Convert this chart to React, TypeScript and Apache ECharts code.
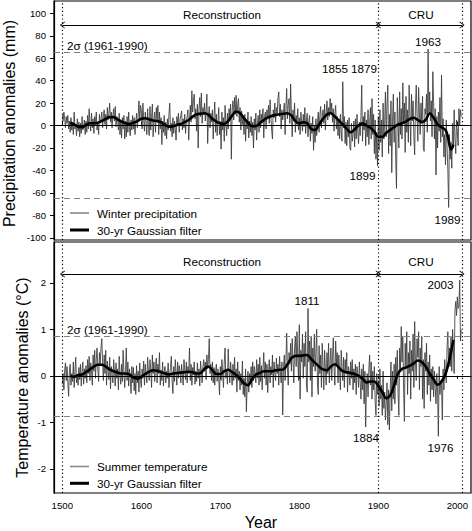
import React, { useEffect, useRef } from "react";
import * as echarts from "echarts";

const START_YEAR = 1500;

// Winter precipitation anomalies (mm), one value per year from 1500 to 2005
const precipitation: number[] = [
  10, 4, 12, 6, -2, 8, 2, 9, -3, 4,
  -6, 7, -4, 3, -8, 12, -3, 1, -9, 6,
  -5, 3, -10, 2, -7, 8, -4, -1, 5, -8,
  4, -6, 9, -3, 15, 2, -5, 11, -2, 6,
  -7, 8, 1, 12, -4, 3, -8, 10, 2, 6,
  12, -2, 8, 14, 1, 10, -3, 16, 5, 11,
  20, 3, 12, -2, 9, 15, 4, 17, -1, 8,
  6, -4, 11, -8, 3, -11, 7, -3, 9, -12,
  4, -10, 8, -6, 12, -2, -9, 5, -4, 9,
  -3, 7, -8, 3, 11, -2, 8, 22, 4, 18,
  14, -3, 20, 6, -5, 12, 3, -8, 15, 1,
  -9, 17, -4, 8, 19, -10, 6, 12, -6, 16,
  5, 18, -8, 12, -3, 7, -17, 4, -6, 9,
  -9, 3, -12, 6, -4, 10, 20, -5, 2, -10,
  7, -7, 4, -3, -13, 8, 1, 11, -6, 5,
  9, 13, -4, 6, -2, 10, -7, 4, 8, 14,
  -13, 5, 18, 3, 31, 12, 22, 28, 6, 15,
  -5, 19, -20, 14, 25, 8, 29, 2, 16, 10,
  20, 4, 13, 28, -16, 9, 17, -2, 11, 3,
  14, -12, 8, 21, -6, 10, -9, 4, 16, -8,
  2, -21, 12, -4, 7, -14, 18, 3, -9, 11,
  -3, 15, 6, 19, -30, 14, 22, 5, 25, 10,
  27, 8, 18, 24, 3, 16, -4, 13, 1, 9,
  -8, 10, -14, 5, -3, 12, -11, 4, -6, 8,
  -9, 3, -20, 6, -4, 11, -13, 2, 9, -6,
  14, -2, 10, 4, 15, -11, 8, 12, -3, 14,
  6, 18, 2, 23, 9, -4, -12, 14, 7, 20,
  3, 16, 11, 25, 30, 8, 19, -3, 14, 5,
  12, 20, -8, 15, 33, 6, 18, 24, 2, 37,
  10, -10, 14, 4, 20, -6, 9, 1, 15, -4,
  7, -8, 12, 3, -5, 10, -1, 16, -7, 5,
  11, -10, 4, 9, -14, 2, -7, 8, -22, 0,
  -15, 6, -9, 3, 12, -6, 9, 17, -2, 8,
  14, 2, 19, -4, 11, 22, 5, 16, 8, 24,
  12, 20, 3, 15, -5, 10, 18, -3, 8, -9,
  6, -12, 10, -6, -14, 39, -2, 8, -16, 3,
  -18, 5, -10, 7, -20, -22, 2, -14, -8, 4,
  -19, 6, -12, 10, -6, -16, 3, -9, 8, 36,
  -14, 8, -4, 12, -18, 5, -10, 14, -17, 2,
  16, -12, 24, -8, 10, -25, 5, -30, -6, -36,
  8, -22, 14, -15, 5, -28, 20, -12, 2, 30,
  -10, 18, 36, -25, 10, -18, 22, -42, 4, 28,
  -15, 12, -30, -56, 25, 5, -20, 30, -8, 15,
  -12, 38, 2, 20, -24, 26, -6, 14, -15, 36,
  10, -18, 28, 4, 22, -10, -26, 18, 36, 8,
  -14, 34, 12, -8, 20, 2, 26, -20, -23, 15,
  10, 28, -6, 68, 12, 30, 4, 22, -10, 48,
  20, -12, 15, -44, 8, -20, 12, -5, 25, -15,
  45, -10, 6, -28, -8, -35, 5, -18, -40, -73,
  -8, -30, -15, -38, 2, -20, 14, -12, -25, 5,
  -5, -18, 15, 0, 14, 8,
];

// Summer temperature anomalies (°C), one value per year from 1500 to 2005
const temperature: number[] = [
  -0.18, 0.05, -0.3, 0.12, 0.28, -0.1, 0.2, -0.15, -0.44, 0.1,
  0.25, -0.2, 0.05, -0.12, 0.3, -0.25, 0.1, 0.4, -0.15, 0.02,
  -0.2, 0.18, -0.08, 0.25, -0.22, 0.08, 0.3, -0.18, 0.15, -0.05,
  0.22, -0.15, 0.35, 0.05, 0.42, -0.1, 0.28, 0.12, -0.2, 0.45,
  0.1, 0.55, -0.05, 0.35, 0.6, 0.15, -0.12, 0.5, 0.25, 0.62,
  0.8, 0.3, -0.1, 0.45, 0.05, 0.55, -0.2, 0.32, 0.1, -0.08,
  0.4, -0.28, 0.2, 0.05, -0.15, 0.35, 0.1, -0.22, 0.28, -0.05,
  0.15, -0.3, 0.42, 0.02, -0.18, 0.25, -0.12, 0.55, 0.08, -0.25,
  0.1, 0.6, -0.1, 0.3, -0.22, 0.15, -0.05, -0.38, 0.2, -0.15,
  0.18, -0.32, 0.05, -0.4, 0.22, -0.15, 0.1, -0.35, 0.28, -0.1,
  -0.25, 0.15, -0.05, 0.32, -0.2, 0.25, 0.02, -0.15, 0.4, 0.08,
  -0.1, 0.35, 0.12, -0.25, 0.45, 0.05, 0.3, -0.12, 0.2, 0.38,
  -0.15, 0.25, 0.05, 0.5, -0.2, 0.12, -0.1, 0.3, -0.22, 0.08,
  0.2, -0.15, 0.1, -0.05, 0.28, -0.25, 0.05, 0.18, 0.42, -0.1,
  -0.38, 0.2, -0.12, 0.35, 0.05, -0.2, 0.3, -0.05, 0.22, 0.1,
  -0.15, 0.25, 0.02, -0.2, 0.35, 0.12, -0.08, 0.3, -0.15, 0.2,
  0.05, 0.6, -0.1, 0.25, -0.2, 0.18, 0.02, 0.3, -0.18, 0.1,
  -0.12, 0.28, -0.05, 0.15, -0.22, 0.32, 0.08, -0.15, 0.2, 0.35,
  0.1, 0.3, -0.08, 0.45, 0.15, 0.35, 0.8, 0.05, 0.25, -0.1,
  0.3, -0.15, 0.18, -0.2, 0.1, 0.25, -0.12, 0.15, -0.05, -0.41,
  0.2, -0.1, 0.35, 0.05, -0.25, 0.3, 0.6, -0.05, 0.15, -0.18,
  0.58, 0.1, -0.15, 0.3, 0.05, -0.2, 0.25, -0.1, 0.4, -0.05,
  0.15, -0.35, 0.3, -0.1, 0.1, -0.3, 0.05, -0.2, 0.32, -0.4,
  -0.05, -0.45, 0.15, -0.77, -0.2, 0.1, -0.35, 0.05, -0.15, 0.2,
  -0.25, 0.3, -0.1, 0.2, 0.05, -0.15, 0.35, -0.05, 0.25, -0.2,
  0.4, -0.12, 0.22, -0.3, 0.15, 0.5, -0.05, 0.3, -0.2, 0.25,
  -0.36, 0.1, 0.35, -0.15, 0.2, 0.02, 0.45, -0.25, 0.3, 0.05,
  -0.1, 0.38, 0.05, 0.25, -0.2, 0.42, 0.1, -0.15, 0.3, -0.84,
  0.2, 0.45, -0.1, 0.3, 0.92, 0.15, -0.2, 0.5, 0.25, 0.7,
  0.1, 0.8, 0.35, -0.15, 0.6, 0.85, 0.2, 0.95, 0.4, -0.1,
  1.1, -0.5, 0.55, 0.3, 0.9, -0.05, 0.7, 0.2, 0.95, -0.2,
  -0.35, 1.45, 0.3, 0.75, -0.1, 0.85, -0.45, 0.6, 0.2, 0.9,
  0.1, 0.5, 1.0, -0.2, -0.4, 0.65, 0.05, 0.45, -0.25, 0.7,
  0.2, -0.3, 0.55, 0.15, -0.2, 0.5, 0.05, 0.7, -0.15, 0.3,
  0.6, -0.1, 0.4, 0.82, 0.15, -0.2, 0.75, 0.25, 0.5, -0.15,
  0.45, 0.1, -0.3, 0.55, 0.2, -0.1, 0.4, -0.25, 0.35, 0.05,
  0.5, -0.35, 0.2, 0.1, -0.2, 0.3, -0.05, 0.35, -0.3, 0.15,
  -0.15, 0.25, -0.4, 0.2, 0.05, -0.25, 0.3, -0.1, -0.5, 0.15,
  -0.3, 0.25, -0.6, 0.1, -1.1, -0.2, 0.05, -0.45, 0.15, 0.45,
  -0.2, 0.3, -0.5, 0.1, -0.3, 0.2, -0.55, -0.85, 0.05, -0.4,
  -0.1, -0.65, 0.15, -0.5, -0.2, -0.85, 0.1, -0.7, -0.35, -0.95,
  -0.6, -0.15, -1.05, -0.3, -1.16, -0.4, 0.3, -0.75, 0.1, -0.5,
  0.25, -0.6, 0.4, -0.2, 0.55, -0.35, -0.85, 0.6, 0.15, 1.06,
  0.3, 0.85, -0.3, -0.98, 0.7, 0.2, 0.95, -0.4, 0.5, 0.05,
  0.75, -0.5, 0.55, 0.1, 0.9, -0.25, 1.17, 0.3, -0.1, 0.8,
  0.4, 0.95, -0.3, 0.6, 0.2, 0.85, -0.5, 0.35, -0.7, 0.5,
  0.1, 0.7, -0.4, 0.3, -0.2, 0.45, -0.55, 0.15, -0.3, 0.2,
  -0.45, 0.1, -0.25, -0.6, 0.05, -0.35, -1.3, 0.2, -0.4, -0.1,
  -0.2, -0.95, 0.15, -0.3, 0.35, 0.05, -0.15, 0.6, 0.95, 0.2,
  0.6, 0.2, 0.85, 0.1, 1.0, 0.6, 0.05, 1.4, 1.6, 1.3,
  1.7, 1.45, 1.5, 2.06, 0.75, 1.0,
];

// 30-yr Gaussian filter: [year, value]
const precipSmooth: [number, number][] = [
  [1510, 2.5], [1515, 1], [1520, -1], [1525, -1.5], [1530, 0.5], [1535, 2], [1540, 2], [1545, 2.5],
  [1550, 4], [1555, 6], [1560, 7.5], [1565, 7.5], [1570, 5.5], [1575, 3.5], [1580, 2], [1585, 1.5],
  [1590, 2.5], [1595, 4], [1600, 6], [1605, 6.5], [1610, 5.5], [1615, 4.5], [1620, 4], [1625, 3],
  [1630, 0.5], [1635, -1], [1640, -0.5], [1645, 0.5], [1650, 1.5], [1655, 3], [1660, 5], [1665, 8],
  [1670, 10], [1675, 10.5], [1680, 11], [1685, 9.5], [1690, 6], [1695, 3.5], [1700, 2], [1705, 1.5],
  [1710, 4], [1715, 9], [1720, 12.5], [1725, 11], [1730, 6.5], [1735, 2.5], [1740, -0.5], [1745, -0.5],
  [1750, 2], [1755, 5], [1760, 7], [1765, 8.5], [1770, 9.5], [1775, 10], [1780, 10.5], [1785, 11],
  [1790, 9], [1795, 4], [1800, 2], [1805, 3], [1810, 2], [1815, -3], [1820, -4], [1825, 1],
  [1830, 6], [1835, 10], [1840, 11], [1845, 8], [1850, 4.5], [1855, 1], [1860, -3], [1865, -6],
  [1870, -3.5], [1875, 0], [1880, 2], [1885, 0], [1890, -2], [1895, -5.5], [1900, -10], [1905, -10],
  [1910, -6.5], [1915, -4], [1920, -1.5], [1925, 1], [1930, 2], [1935, 3.5], [1940, 6], [1945, 7],
  [1950, 5], [1955, 3], [1960, 5], [1965, 11], [1970, 7], [1975, 1], [1980, -1.5], [1985, -4],
  [1988, -10], [1990, -17], [1992, -21.5], [1995, -17],
];

const tempSmooth: [number, number][] = [
  [1510, 0.0], [1515, -0.02], [1520, 0.02], [1525, 0.03], [1530, 0.08], [1535, 0.14], [1540, 0.2], [1545, 0.24],
  [1550, 0.24], [1555, 0.2], [1560, 0.14], [1565, 0.1], [1570, 0.07], [1575, 0.05], [1580, 0.05], [1585, 0.03],
  [1590, -0.04], [1595, -0.06], [1600, -0.02], [1605, 0.04], [1610, 0.09], [1615, 0.12], [1620, 0.11], [1625, 0.08],
  [1630, 0.05], [1635, 0.03], [1640, 0.05], [1645, 0.06], [1650, 0.07], [1655, 0.08], [1660, 0.09], [1665, 0.08],
  [1670, 0.05], [1675, 0.06], [1680, 0.15], [1685, 0.2], [1690, 0.12], [1695, 0.04], [1700, 0.04], [1705, 0.1],
  [1710, 0.13], [1715, 0.08], [1720, 0.02], [1725, -0.06], [1730, -0.16], [1735, -0.2], [1740, -0.08], [1745, 0.03],
  [1750, 0.06], [1755, 0.1], [1760, 0.1], [1765, 0.1], [1770, 0.12], [1775, 0.13], [1780, 0.14], [1785, 0.25],
  [1790, 0.38], [1795, 0.43], [1800, 0.43], [1805, 0.44], [1810, 0.45], [1815, 0.36], [1820, 0.28], [1825, 0.2],
  [1830, 0.14], [1835, 0.12], [1840, 0.2], [1845, 0.25], [1850, 0.18], [1855, 0.1], [1860, 0.08], [1865, 0.06],
  [1870, 0.04], [1875, 0.0], [1880, -0.06], [1885, -0.14], [1890, -0.12], [1895, -0.12], [1900, -0.22], [1905, -0.35],
  [1910, -0.48], [1915, -0.42], [1920, -0.2], [1925, 0.05], [1930, 0.15], [1935, 0.18], [1940, 0.22], [1945, 0.27],
  [1950, 0.33], [1955, 0.3], [1960, 0.2], [1965, 0.05], [1970, -0.08], [1975, -0.19], [1980, -0.12], [1985, 0.04],
  [1990, 0.35], [1995, 0.77],
];

const xTicks = [1500, 1600, 1700, 1800, 1900, 2000];
const precipTicks = [-100, -80, -60, -40, -20, 0, 20, 40, 60, 80, 100];
const tempTicks = [-2, -1, 0, 1, 2];
const periodBounds = [1500, 1900, 2006];
const precipSigma = 65;
const tempSigma = 0.86;
const precipArrowLevel = 89.5;
const tempArrowLevel = 2.19;

const FONT = "'Liberation Sans', Arial, Helvetica, sans-serif";
const CHEVRON = "path://M0,10 L5,0 L10,10 L8.6,10 L5,2.8 L1.4,10 Z";

function toPairs(values: number[]): [number, number][] {
  return values.map((v, i) => [START_YEAR + i, v]);
}

function buildMarkLines(sigma: number, arrowLevel: number) {
  const dashed = { type: [6, 4] as any, color: "#808080", width: 1.2 };
  const dotted = { type: [1.2, 2.6] as any, color: "#000", width: 1.2 };
  const arrowStyle = { type: "solid" as any, color: "#000", width: 1 };
  return {
    silent: true,
    symbol: "none",
    label: { show: false },
    emphasis: { disabled: true },
    data: [
      { yAxis: sigma, lineStyle: dashed },
      { yAxis: -sigma, lineStyle: dashed },
      { yAxis: 0, lineStyle: { type: "solid", color: "#000", width: 1 } },
      ...periodBounds.map((x) => ({ xAxis: x, lineStyle: dotted })),
      [
        { coord: [periodBounds[0], arrowLevel], symbol: CHEVRON, symbolSize: [7, 5], lineStyle: arrowStyle },
        { coord: [periodBounds[1], arrowLevel], symbol: CHEVRON, symbolSize: [7, 5] },
      ],
      [
        { coord: [periodBounds[1], arrowLevel], symbol: CHEVRON, symbolSize: [7, 5], lineStyle: arrowStyle },
        { coord: [periodBounds[2], arrowLevel], symbol: CHEVRON, symbolSize: [7, 5] },
      ],
    ],
  };
}

function txt(text: string, x: number, y: number, size: number, extra: any = {}) {
  return {
    type: "text",
    x,
    y,
    silent: true,
    z: 100,
    ...extra,
    style: {
      text,
      font: `${size}px ${FONT}`,
      fill: "#000",
      align: "center",
      verticalAlign: "middle",
      textAlign: "center",
      textVerticalAlign: "middle",
      ...(extra.style || {}),
    },
  };
}

function legendItems(y1: number, y2: number, label1: string) {
  return [
    { type: "line", silent: true, z: 100, shape: { x1: 70, y1, x2: 89, y2: y1 }, style: { stroke: "#8a8a8a", lineWidth: 1.6 } },
    { type: "line", silent: true, z: 100, shape: { x1: 70, y1: y2, x2: 89, y2 }, style: { stroke: "#000", lineWidth: 3 } },
    txt(label1, 97, y1, 11.7, { style: { align: "left", textAlign: "left" } }),
    txt("30-yr Gaussian filter", 97, y2, 11.7, { style: { align: "left", textAlign: "left" } }),
  ];
}

export default function App() {
  const ref = useRef<HTMLDivElement>(null);

  useEffect(() => {
    if (!ref.current) return;
    const chart = echarts.init(ref.current, null, { renderer: "svg" });

    const axisLineStyle = { color: "#000", width: 1.2 };
    const labelStyle = { color: "#000", fontSize: 9.6, fontFamily: FONT, formatter: (v: number) => String(v) };

    const option: any = {
      animation: false,
      backgroundColor: "#fff",
      grid: [
        { left: 54, top: 1, width: 417, height: 239, show: true, borderColor: "#000", borderWidth: 1.2, containLabel: false },
        { left: 54, top: 242, width: 417, height: 251, show: true, borderColor: "#000", borderWidth: 1.2, containLabel: false },
      ],
      xAxis: [
        {
          type: "value", gridIndex: 0, min: 1489.5, max: 2017.3,
          axisLine: { show: true, lineStyle: axisLineStyle },
          axisTick: { show: true, inside: true, length: 4, customValues: xTicks, lineStyle: { color: "#000" } },
          axisLabel: { show: false, customValues: xTicks },
          splitLine: { show: false },
        },
        {
          type: "value", gridIndex: 1, min: 1489.5, max: 2017.3,
          axisLine: { show: true, lineStyle: axisLineStyle },
          axisTick: { show: true, inside: false, length: 3, customValues: xTicks, lineStyle: { color: "#000" } },
          axisLabel: { show: true, customValues: xTicks, margin: 7, ...labelStyle },
          splitLine: { show: false },
        },
      ],
      yAxis: [
        {
          type: "value", gridIndex: 0, min: -102, max: 111,
          axisLine: { show: true, lineStyle: axisLineStyle },
          axisTick: { show: true, length: 4, customValues: precipTicks, lineStyle: { color: "#000" } },
          axisLabel: { show: true, customValues: precipTicks, margin: 8, ...labelStyle },
          splitLine: { show: false },
        },
        {
          type: "value", gridIndex: 1, min: -2.52, max: 2.88,
          axisLine: { show: true, lineStyle: axisLineStyle },
          axisTick: { show: true, length: 4, customValues: tempTicks, lineStyle: { color: "#000" } },
          axisLabel: { show: true, customValues: tempTicks, margin: 8, ...labelStyle },
          splitLine: { show: false },
        },
      ],
      series: [
        {
          name: "Winter precipitation", type: "line", xAxisIndex: 0, yAxisIndex: 0,
          data: toPairs(precipitation), showSymbol: false, symbol: "none", silent: true,
          lineStyle: { color: "#3a3a3a", width: 0.85 }, z: 2,
        },
        {
          name: "30-yr Gaussian filter", type: "line", xAxisIndex: 0, yAxisIndex: 0,
          data: precipSmooth, showSymbol: false, symbol: "none", smooth: 0.35, silent: true,
          lineStyle: { color: "#000", width: 2.6 }, z: 3,
          markLine: buildMarkLines(precipSigma, precipArrowLevel),
        },
        {
          name: "Summer temperature", type: "line", xAxisIndex: 1, yAxisIndex: 1,
          data: toPairs(temperature), showSymbol: false, symbol: "none", silent: true,
          lineStyle: { color: "#3a3a3a", width: 0.85 }, z: 2,
        },
        {
          name: "30-yr Gaussian filter (T)", type: "line", xAxisIndex: 1, yAxisIndex: 1,
          data: tempSmooth, showSymbol: false, symbol: "none", smooth: 0.35, silent: true,
          lineStyle: { color: "#000", width: 2.6 }, z: 3,
          markLine: buildMarkLines(tempSigma, tempArrowLevel),
        },
      ],
      graphic: [
        // axis titles
        txt("Precipitation anomalies (mm)", 9, 123.5, 16, { rotation: Math.PI / 2 }),
        txt("Temperature anomalies (°C)", 22, 377.5, 16, { rotation: Math.PI / 2 }),
        txt("Year", 261, 522, 16),
        // period labels
        txt("Reconstruction", 222, 14.5, 11.7),
        txt("CRU", 421, 14.5, 11.7),
        txt("Reconstruction", 222, 261, 11.7),
        txt("CRU", 421, 261, 11.7),
        // 2 sigma labels
        txt("2σ (1961-1990)", 67, 45, 11.7, { style: { align: "left", textAlign: "left" } }),
        txt("2σ (1961-1990)", 67, 329, 11.7, { style: { align: "left", textAlign: "left" } }),
        // extreme year labels
        txt("1855", 335, 68, 11.7),
        txt("1879", 364, 68, 11.7),
        txt("1963", 428, 41, 11.7),
        txt("1899", 362.5, 175, 11.7),
        txt("1989", 447.5, 219, 11.7),
        txt("1811", 307, 300, 11.7),
        txt("2003", 440.5, 284, 11.7),
        txt("1884", 366, 437.5, 11.7),
        txt("1976", 440.5, 447, 11.7),
        // legends
        ...legendItems(213, 230, "Winter precipitation"),
        ...legendItems(466.5, 483.3, "Summer temperature"),
      ],
    };

    chart.setOption(option);
    return () => chart.dispose();
  }, []);

  return (
    <div
      ref={ref}
      style={{ position: "fixed", left: 0, top: 0, width: 472, height: 531, background: "#fff" }}
    />
  );
}
